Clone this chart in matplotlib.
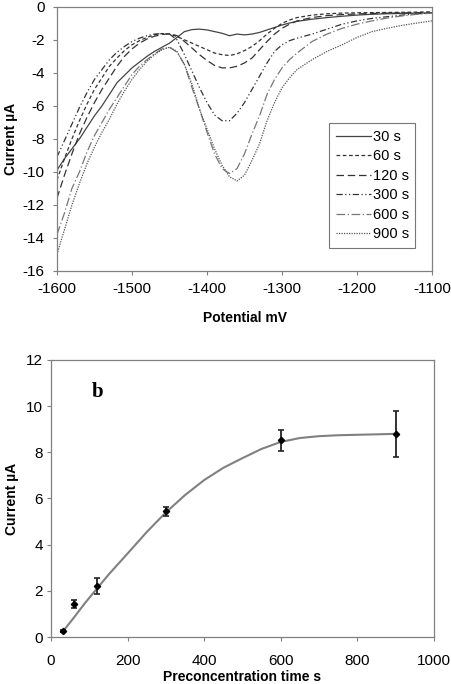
import numpy as np
import matplotlib.pyplot as plt

plt.rcParams['font.family'] = ['Liberation Sans', 'DejaVu Sans']
plt.rcParams['axes.unicode_minus'] = False

# ---- panel a: stripping voltammograms ----
potential = [-1600, -1590, -1580, -1570, -1560, -1550, -1540, -1530, -1520, -1510,
             -1500, -1490, -1480, -1470, -1460, -1450, -1440, -1430, -1420, -1410,
             -1400, -1390, -1380, -1370, -1360, -1350, -1340, -1330, -1320, -1310,
             -1300, -1290, -1280, -1260, -1240, -1220, -1200, -1180, -1160, -1140,
             -1120, -1100]

i_30 = [-9.9, -9.2, -8.6, -8.0, -7.3, -6.6, -6.0, -5.3, -4.6, -4.15,
        -3.7, -3.35, -3.0, -2.7, -2.45, -2.2, -1.85, -1.5, -1.38, -1.35,
        -1.4, -1.5, -1.6, -1.75, -1.65, -1.7, -1.65, -1.55, -1.4, -1.25,
        -1.1, -0.98, -0.88, -0.75, -0.65, -0.57, -0.5, -0.45, -0.42, -0.4,
        -0.38, -0.36]
i_60 = [-10.5, -9.2, -8.0, -6.9, -5.9, -5.0, -4.3, -3.6, -3.1, -2.65,
        -2.3, -2.05, -1.85, -1.7, -1.62, -1.65, -1.8, -2.0, -2.2, -2.4,
        -2.6, -2.8, -2.9, -2.95, -2.85, -2.65, -2.4, -2.05, -1.65, -1.3,
        -1.0, -0.8, -0.65, -0.5, -0.42, -0.38, -0.36, -0.35, -0.34, -0.33,
        -0.32, -0.3]
i_120 = [-11.6, -10.2, -8.9, -7.7, -6.7, -5.8, -5.0, -4.3, -3.6, -3.0,
         -2.55, -2.2, -1.95, -1.78, -1.68, -1.62, -1.75, -2.1, -2.5, -2.9,
         -3.25, -3.55, -3.7, -3.7, -3.6, -3.4, -3.1, -2.6, -2.1, -1.65,
         -1.3, -1.05, -0.85, -0.65, -0.53, -0.47, -0.43, -0.4, -0.38, -0.37,
         -0.36, -0.35]
i_300 = [-9.1, -8.1, -7.1, -6.1, -5.2, -4.4, -3.8, -3.2, -2.75, -2.4,
         -2.1, -1.9, -1.75, -1.65, -1.62, -1.65, -2.0, -2.9, -3.9, -4.9,
         -5.8, -6.55, -6.9, -6.9, -6.45, -5.8, -5.0, -4.2, -3.4, -2.7,
         -2.3, -2.05, -1.9, -1.65, -1.35, -1.05, -0.85, -0.7, -0.6, -0.5,
         -0.42, -0.38]
i_600 = [-13.8, -12.5, -11.0, -10.0, -8.8, -7.8, -7.0, -6.2, -5.5, -4.8,
         -4.1, -3.6, -3.2, -2.85, -2.55, -2.45, -2.75, -3.5, -4.9, -6.2,
         -7.6, -8.9, -9.8, -10.1, -9.8, -8.9, -7.7, -6.6, -5.3, -4.4,
         -3.7, -3.2, -2.8, -2.1, -1.65, -1.3, -1.05, -0.85, -0.68, -0.55,
         -0.45, -0.38]
i_900 = [-15.0, -13.5, -12.0, -10.7, -9.5, -8.5, -7.6, -6.8, -5.9, -5.1,
         -4.4, -3.8, -3.3, -2.9, -2.6, -2.45, -2.7, -3.5, -4.7, -6.2,
         -7.4, -8.6, -9.6, -10.3, -10.55, -10.2, -9.3, -8.3, -6.9, -5.8,
         -4.9, -4.3, -3.8, -3.2, -2.7, -2.3, -1.85, -1.5, -1.3, -1.12,
         -0.98, -0.85]

labels = ['30 s', '60 s', '120 s', '300 s', '600 s', '900 s']

# ---- panel b: peak current vs preconcentration time ----
t_pre = [30, 60, 120, 300, 600, 900]
i_peak = [0.27, 1.43, 2.2, 5.45, 8.52, 8.78]
i_err = [0.05, 0.17, 0.35, 0.19, 0.45, 1.0]

# trend line as drawn in the figure
t_fit = [30, 60, 90, 120, 150, 200, 250, 300, 350, 400, 450, 500,
         550, 600, 650, 700, 750, 800, 850, 900]
i_fit = [0.22, 0.85, 1.5, 2.1, 2.7, 3.62, 4.55, 5.4, 6.15, 6.8, 7.33, 7.75,
         8.15, 8.45, 8.62, 8.7, 8.74, 8.76, 8.78, 8.8]

fig = plt.figure(figsize=(4.52, 6.84), dpi=100)
grey = '#808080'

ax1 = fig.add_axes([0.126, 0.604, 0.830, 0.386])
styles = [
    dict(color='#444444', ls='-', lw=0.9),
    dict(color='#333333', ls=(0, (3, 2)), lw=0.9),
    dict(color='#333333', ls=(0, (6, 3)), lw=0.9),
    dict(color='#333333', ls=(0, (5, 2, 1, 2, 1, 2)), lw=0.9),
    dict(color='#777777', ls=(0, (7, 2, 1, 2)), lw=0.9),
    dict(color='#555555', ls=(0, (1, 1)), lw=0.9),
]
for cur, lab, st in zip([i_30, i_60, i_120, i_300, i_600, i_900], labels, styles):
    ax1.plot(potential, cur, label=lab, **st)

ax1.set_xlim(-1600, -1100)
ax1.set_ylim(-16, 0)
ax1.set_xticks(np.arange(-1600, -1099, 100))
ax1.set_yticks(np.arange(-16, 1, 2))
ax1.set_xlabel('Potential mV', fontsize=10, fontweight='bold', labelpad=11)
ax1.set_ylabel('Current µA', fontsize=10, fontweight='bold', labelpad=3)
leg = ax1.legend(loc='lower left', bbox_to_anchor=(0.725, 0.087), fontsize=10.5,
                 frameon=True, fancybox=False, edgecolor='#555555',
                 handlelength=2.4, handletextpad=0.15, labelspacing=0.38,
                 borderpad=0.45, borderaxespad=0)
leg.get_frame().set_linewidth(0.8)

ax2 = fig.add_axes([0.113, 0.0687, 0.847, 0.405])
ax2.plot(t_fit, i_fit, color=grey, lw=1.5)
ax2.errorbar(t_pre, i_peak, yerr=i_err, fmt='D', ms=3.2, color='black',
             ecolor='#222222', elinewidth=1.3, capsize=2.5, capthick=1.2)
ax2.text(107, 10.4, 'b', fontsize=15, fontweight='bold', family='Liberation Serif')
ax2.set_xlim(0, 1000)
ax2.set_ylim(0, 12)
ax2.set_xticks(np.arange(0, 1001, 200))
ax2.set_yticks(np.arange(0, 13, 2))
ax2.set_xlabel('Preconcentration time s', fontsize=10, fontweight='bold', labelpad=2)
ax2.set_ylabel('Current µA', fontsize=10, fontweight='bold', labelpad=5)

for ax in (ax1, ax2):
    for sp in ax.spines.values():
        sp.set_color(grey)
        sp.set_linewidth(0.9)
    ax.tick_params(direction='out', length=3, color=grey, labelsize=11)
ax1.tick_params(axis='x', pad=5)
ax1.tick_params(axis='y', pad=6)
ax2.tick_params(axis='x', pad=9)
ax2.tick_params(axis='y', pad=3)

fig.savefig('out.png', dpi=100)
